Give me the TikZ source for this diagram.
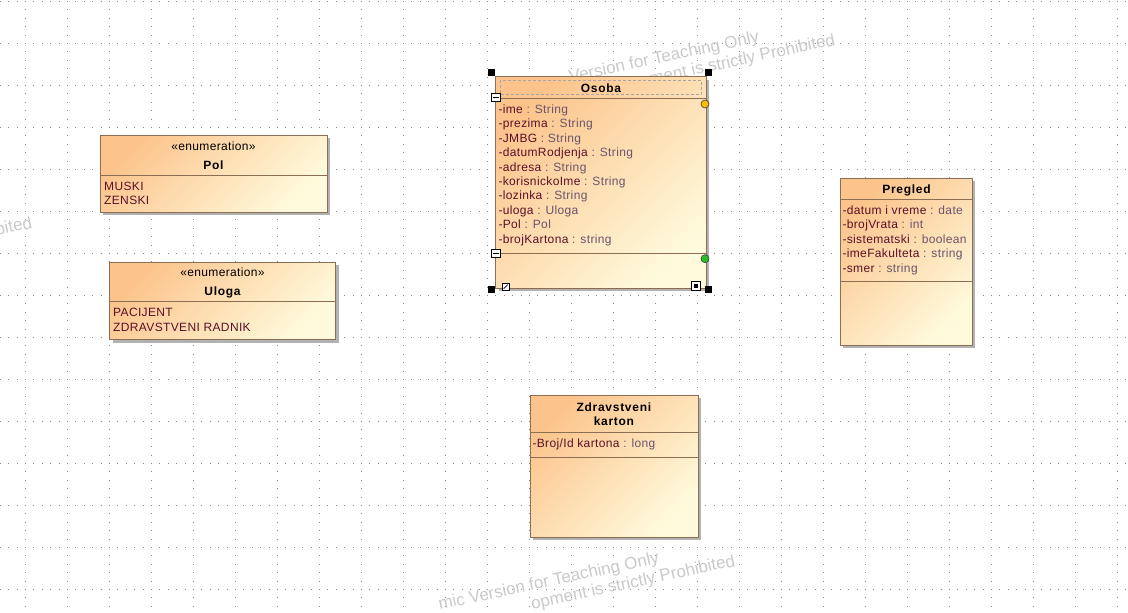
\documentclass[tikz,border=0pt]{standalone}
\usepackage{fontspec}
\setmainfont{Liberation Sans}
\newfontfamily\umlfont{Liberation Sans}[LetterSpace=3]
\newfontfamily\umlbold{Liberation Sans}[LetterSpace=6]
\usepackage{tikz}
\usetikzlibrary{shadows}

\definecolor{classtop}{HTML}{FCC48C}
\definecolor{classbottom}{HTML}{FFFADC}
\definecolor{classborder}{HTML}{8C6E52}
\definecolor{attrname}{HTML}{5A1028}
\definecolor{attrtype}{HTML}{6A546A}
\definecolor{griddot}{HTML}{8A8A8A}
\definecolor{watermark}{HTML}{CACACA}
\newcommand{\attr}[2]{\textcolor{attrname}{-#1} \textcolor{attrtype}{: #2}}

\tikzset{
  classbox/.style={draw=classborder, line width=1pt, top color=classtop,
    bottom color=classbottom, shading angle=45, inner sep=0pt, outer sep=0pt,
    anchor=north west,
    drop shadow={shadow xshift=3pt, shadow yshift=-3pt, fill=black!30, opacity=1}},
  sepline/.style={draw=classborder, line width=1pt},
  umltext/.style={font=\umlfont\fontsize{12}{14.4}\selectfont, inner sep=0pt, anchor=base west},
  umlstereo/.style={font=\umlfont\fontsize{12}{14.4}\selectfont, inner sep=0pt, anchor=base},
  umltitle/.style={font=\umlbold\bfseries\fontsize{12}{13.4}\selectfont, inner sep=0pt, anchor=base},
  griddots/.style={draw=griddot, line width=1pt, dash pattern=on 1pt off 7.4pt},
  wmtext/.style={text=watermark, font=\fontsize{17}{20}\selectfont, rotate=12,
    anchor=base east, inner sep=0pt},
  selhandle/.style={fill=black, minimum size=7pt, inner sep=0pt},
  minusbox/.style={draw=black, fill=white, minimum size=8.5pt, inner sep=0pt, line width=0.8pt},
  portdot/.style={circle, draw=black!75, line width=0.6pt, minimum size=8pt, inner sep=0pt}
}

\begin{document}
\begin{tikzpicture}[x=1pt, y=-1pt]
  \useasboundingbox (0,0) rectangle (1128,613);
  \clip (0,0) rectangle (1128,613);
  \fill[white] (0,0) rectangle (1128,613);

  % Grid
  \foreach \gy in {0,...,14}
    \draw[griddots] (-17,{1+42*\gy}) -- (1140,{1+42*\gy});
  \foreach \gx in {0,...,26}
    \draw[griddots] ({25+42*\gx},-7.4) -- ({25+42*\gx},620);

  % Watermarks
  \node[wmtext] (wm1a) at (760,42) {Version for Teaching Only};
  \node[wmtext] (wm1b) at (836,45) {ment is strictly Prohibited};
  \node[wmtext] (wm2a) at (660,563) {mic Version for Teaching Only};
  \node[wmtext] (wm2b) at (736,566) {opment is strictly Prohibited};
  \node[wmtext] (wm3b) at (33,228) {bited};

  % Define nodes
  \node[classbox, minimum width=210.5pt, minimum height=211.5pt] (osoba) at (495.5,76.5) {};
  \node[classbox, minimum width=227pt, minimum height=77pt] (pol) at (100,135) {};
  \node[classbox, minimum width=226pt, minimum height=77.5pt] (uloga) at (109.5,262) {};
  \node[classbox, minimum width=132pt, minimum height=167pt] (pregled) at (840,178) {};
  \node[classbox, minimum width=168pt, minimum height=142pt] (karton) at (530,395) {};

  % Compartments
  \draw[sepline] (osoba.west |- 0,98) -- (osoba.east |- 0,98);
  \draw[sepline] (osoba.west |- 0,253) -- (osoba.east |- 0,253);
  \draw[sepline] (pol.west |- 0,175) -- (pol.east |- 0,175);
  \draw[sepline] (uloga.west |- 0,301.5) -- (uloga.east |- 0,301.5);
  \draw[sepline] (pregled.west |- 0,199) -- (pregled.east |- 0,199);
  \draw[sepline] (pregled.west |- 0,281) -- (pregled.east |- 0,281);
  \draw[sepline] (karton.west |- 0,432) -- (karton.east |- 0,432);
  \draw[sepline] (karton.west |- 0,457) -- (karton.east |- 0,457);

  % Osoba
  \draw[black!35, line width=0.8pt, dash pattern=on 3pt off 2pt] (500,80) rectangle (701,94.3);
  \node[umltitle] (osoba-name) at (601,92.7) {Osoba};
  \foreach \n/\t [count=\i from 0] in {ime/String, prezima/String, JMBG/String,
      datumRodjenja/String, adresa/String, korisnickoIme/String, lozinka/String,
      uloga/Uloga, Pol/Pol, brojKartona/string}
    \node[umltext] (osoba-a\i) at (498.3,{113.3+14.44*\i}) {\attr{\n}{\t}};

  % Pol
  \node[umlstereo] (pol-st) at (213.5,150) {«enumeration»};
  \node[umltitle] (pol-name) at (213.5,169) {Pol};
  \node[umltext, text=attrname] (pol-l1) at (104,190) {MUSKI};
  \node[umltext, text=attrname] (pol-l2) at (104,204.4) {ZENSKI};

  % Uloga
  \node[umlstereo] (uloga-st) at (222.5,276.7) {«enumeration»};
  \node[umltitle] (uloga-name) at (222.5,295.7) {Uloga};
  \node[umltext, text=attrname] (uloga-l1) at (113,316.7) {PACIJENT};
  \node[umltext, text=attrname] (uloga-l2) at (113,331.1) {ZDRAVSTVENI RADNIK};

  % Pregled
  \node[umltitle] (pregled-name) at (906.5,193.3) {Pregled};
  \foreach \n/\t [count=\i from 0] in {datum i vreme/date, brojVrata/int,
      sistematski/boolean, imeFakulteta/string, smer/string}
    \node[umltext] (pregled-a\i) at (842.3,{214.3+14.44*\i}) {\attr{\n}{\t}};

  % Zdravstveni karton
  \node[umltitle] (karton-name1) at (613.9,411.7) {Zdravstveni};
  \node[umltitle] (karton-name2) at (613.9,425.1) {karton};
  \node[umltext] (karton-a0) at (532.3,447.3) {\attr{Broj/Id kartona}{long}};

  % Selection of Osoba
  \node[selhandle] (h1) at (491.7,72.7) {};
  \node[selhandle] (h2) at (708.5,72.7) {};
  \node[selhandle] (h3) at (491.7,289.7) {};
  \node[selhandle] (h4) at (708.5,289.7) {};
  \node[minusbox] (m1) at (496,97.3) {};
  \node[minusbox] (m2) at (496,253.3) {};
  \draw[line width=0.8pt] ([xshift=2pt]m1.west) -- ([xshift=-2pt]m1.east);
  \draw[line width=0.8pt] ([xshift=2pt]m2.west) -- ([xshift=-2pt]m2.east);
  \node[portdot, fill=orange!55!yellow] (p1) at (705,104) {};
  \node[portdot, fill=green!70!black!85] (p2) at (705,258.7) {};
  \node[draw=black, fill=white, line width=0.7pt, minimum size=7pt, inner sep=0pt] (r1) at (505.7,286.7) {};
  \draw[line width=0.7pt] ([shift={(1.8pt,1.8pt)}]r1.south west) -- ([shift={(-1.8pt,-1.8pt)}]r1.north east);
  \node[draw=black, fill=white, line width=0.8pt, minimum size=8.5pt, inner sep=0pt] (r2) at (696,286) {};
  \node[fill=black, minimum size=4pt, inner sep=0pt] (r2in) at (r2) {};
\end{tikzpicture}
\end{document}
